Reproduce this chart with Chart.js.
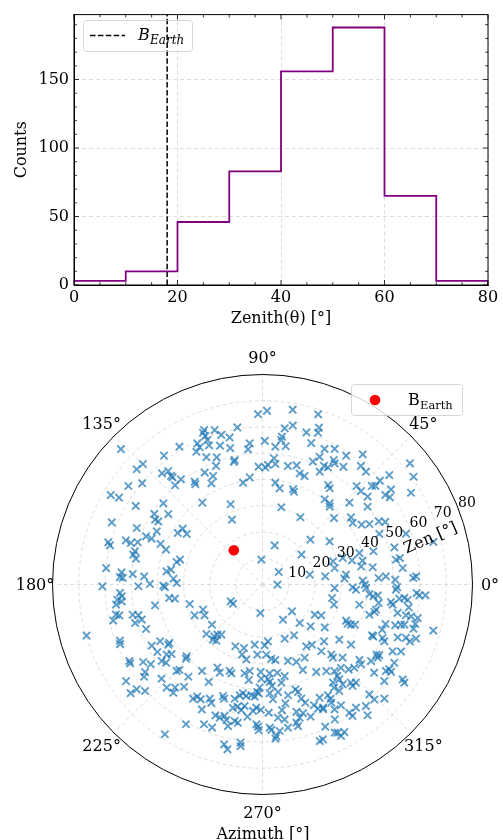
<!DOCTYPE html>
<html>
<head>
<meta charset="utf-8">
<script src="https://cdn.jsdelivr.net/npm/chart.js@4.4.1/dist/chart.umd.min.js"></script>
<style>
  body { margin: 0; background: #fff; }
  #wrap { position: relative; width: 503px; height: 840px; }
  canvas { position: absolute; left: 0; }
  #hist { top: 0; }
  #polar { top: 340px; }
</style>
</head>
<body>
<div id="wrap">
  <canvas id="hist" width="503" height="340"></canvas>
  <canvas id="polar" width="503" height="500"></canvas>
</div>
<script>
// histogram of zenith angles
const binEdges = [0, 10, 20, 30, 40, 50, 60, 70, 80];
const counts = [3, 10, 46, 83, 156, 188, 65, 3];
const bEarthZenith = 18;
const histYMax = 197.4;

// polar sky map (azimuth, zenith) in degrees
const azimuthDeg = [
  136.3,127.4,121.1,134.8,137.5,132.1,129.7,130.1,130,127.8,131.4,143.7,139.9,149.5,148.8,148.2,140.7,
  91.5,88.5,80.2,71.9,110.7,107.2,111.4,111.1,105.4,99.1,
  81.9,79.2,73.9,70.2,69.9,102.6,110.9,114.8,114.6,111,
  107,89.1,82.5,82.6,95.2,71,84.7,80.5,96.1,103.3,
  65.4,62,116.5,113.8,109.8,102.6,103.1,65.9,60.2,67.7,
  111.4,91.9,88.6,87.4,84.8,83.9,77.9,74,62.6,60.8,
  59.2,63.1,117.3,114.5,96.8,100.8,71.5,68.8,123.4,123.8,
  116.8,82.8,79.9,72.2,71.3,56.6,55.1,126.3,111.7,76.3,
  53.9,50.4,49.2,
  57,52.4,55.5,50.3,47.5,41.5,40.8,41.1,42,46.3,43.5,39.9,36.1,36.5,34.4,43.3,36.5,39.4,35.5,31.7,
  146.9,143.2,148.9,148.8,157.6,155.8,153.3,148.7,145,146.3,
  164.7,165.6,162.1,162.5,161.3,157.5,157.5,158.3,160.1,165.4,
  167,168.5,165.3,163.2,174,175.1,177,177.3,175.4,176.1,
  179.7,180.7,180.8,180.7,181.5,172.2,170.8,176.3,179,183.4,
  184.8,186,186.8,187.8,188.2,189.2,191,191.6,192.2,193.6,
  193.1,193.9,196.8,196.2,200.9,196.2,201.5,202.7,208.9,209,
  212.6,212.1,212.7,217.4,216.2,223.5,
  115.2,60.6,42.9,72.7,43.1,32.7,92.7,37.5,37.7,11.8,
  7.4,359.4,357.2,207.9,213,265.7,300.2,317.7,330,332.3,
  314,319,325.4,195,204.4,202.9,208,218.5,221.4,226.9,
  228,230.6,228.1,230.6,246.3,253.8,262.6,275.5,272,253.7,
  265.8,273.1,292.3,301.8,305.3,309.4,317.3,311.4,314.5,349,
  344.2,12.9,18.2,
  37.2,34.3,31.1,29.5,28.5,27,19.5,14,23.4,16.7,
  15.7,18,18.3,10.5,10.9,6.7,3,2.5,15.1,13.4,
  10.4,8.9,6.7,4.1,3.2,3.8,2.1,2.2,359.9,358.2,
  356.8,358.1,354.9,353.9,357.8,358.9,354.1,354.6,353.9,356.8,
  356,356.2,354.6,351,348.2,347.5,346.2,344.2,352.2,351.2,
  348.1,351.1,347.9,347.9,347.8,336.6,335.3,335.6,336.5,342.2,
  342.9,343.8,344.2,343.7,345.5,340.6,344.9,324.3,325.8,335.1,
  334.9,339.3,336,335,338.6,339.6,338.9,334.2,332.8,328.4,
  328.8,
  209.9,210.8,213,215.5,217.2,219,224.1,225.2,225.8,216.7,217.9,215.3,223,231.2,219.8,219.5,222.2,227.1,229.7,230.5,232.5,241.3,236.9,
  257.8,276.8,279.6,288.4,293.6,299.9,313.9,235,241.5,244.1,
  249.2,250.7,258.6,261.6,268.8,274.6,279.5,283.6,295.3,301.6,
  306.4,309.8,309.3,241.1,261.8,269.3,273.3,274.2,275.3,280.9,
  268.4,267.2,278.2,287.4,288.3,305.7,304.7,238.7,239.8,241.7,
  245.2,246.6,250.5,251.4,256.3,258.4,259.8,261.7,264.2,266,
  268,273.8,275.2,283,280.9,288.8,289.9,296.8,300.6,300.8,
  300.2,296.2,293.1,244.1,250.2,252.2,253.9,255.1,256.5,258.4,
  260.4,261.6,263.5,265.7,267.1,269.2,272.8,278.8,276.6,279.3,
  284.9,285.6,283.8,287.5,290,294.1,295.9,300,298.2,247.3,
  250.6,256.3,258.5,259.9,267.5,268.2,268.5,272.9,273.5,275.2,
  274.8,276.7,280.1,284.1,293.8,296,290.1,291.3,256.5,258,
  262.1,262.3,
  317.6,322.1,321,324.8,327.6,329.3,313.3,315.4,317.8,321.7,325,325.8,326.2,309,308.8,312,311.6,
  313.6,305.8,321.6,325.9,325.3,314.2,314.2,316.9,303,304.1,304.4,307.2,310.4,308.8,296.9,299,297.4
];
const zenithDeg = [
  74.6,61.8,61.3,64.7,65,57.1,56.2,54.1,53.3,50.7,50.4,63.4,59.9,67.1,63.9,56.8,48.8,
  64.9,66.2,67.6,68.2,62.9,61.6,62.1,60.6,59.1,60.6,
  60.1,61.7,60.3,63.5,61.6,57.4,58.9,59.2,57.5,56.8,
  55.3,54.7,56.8,55.5,54,57,52.7,53.4,51.8,53.4,
  56.8,58.5,56.5,53,51.5,48.6,48,53.3,54.6,50.6,
  48.5,44.9,44.6,45.6,48.3,46.2,46.2,47.2,50.9,51.1,
  53.7,48.2,48,45.4,41.1,39.5,44.6,44.3,46.9,46,
  43.2,39.1,37.2,38.1,37.3,45.4,44.7,38.7,32.9,30.3,
  40.2,40.1,39.2,
  58.5,62.6,54.4,58.7,58.3,59.7,63.8,57.1,56.1,51.9,51.7,52.2,57.9,60.9,58.8,45.5,49.8,72.7,70.7,66.5,
  49.2,44.8,47.8,46.4,62.1,52.5,45.1,37.8,37.1,34.7,
  60.9,60,54.7,52.6,50.2,48,45.7,41.8,39.1,50.2,
  50.5,49.2,33.8,32.8,59.9,53.9,54.4,53.3,49.6,45.2,
  42.9,61,47.3,37.8,37.2,36.9,35.3,34,32.7,54.4,
  53.8,55.6,54,56.3,35.9,33.8,41.7,57,55.8,58.5,
  50.8,48.7,50.7,47.9,47.5,69.8,58.4,58.8,48.2,44.6,
  42.6,41.9,47.6,43.6,45.2,39.8,
  27.3,29.4,37.2,15.6,25,30.4,9.5,18.7,7.8,18.4,
  24.1,5.7,27.5,13.7,13.4,10.9,15.5,15.2,23,25.3,
  20.4,24.3,28.8,28.7,28.4,24.6,25,24.6,28.5,27,
  25.7,24.7,28.2,27.7,25.7,25.2,23.1,21.8,23.2,27.8,
  26.8,26.8,22.3,22.8,28.9,29.7,31.9,33.9,37.4,27,
  28.3,28.2,28.3,
  42.3,41.6,44.1,46.8,50.4,52.5,58,67.1,48.5,44.1,
  52.2,38.8,32.2,51.7,53.3,53.8,58.6,57.5,35.3,39.2,
  38.2,42.5,32,31.3,44.3,47.1,50.6,38.2,39,34.4,
  35.7,39.5,40.9,42.5,50.9,51.3,52.4,54.3,55.6,58.8,
  59.9,62.2,44.1,44.8,37.7,44.3,43.9,42.3,49.4,50.2,
  52.6,56.4,55.9,57.9,60.5,34.7,35.7,37,38.4,49.2,
  52.9,54.9,56.2,59.9,60.1,62,67.4,36,40.8,46,
  46.6,48.7,50.1,51.2,55.3,58.3,60.2,58.6,55.7,51,
  52,
  58.5,58.7,54.2,52.3,48.2,47.3,40.6,46.4,45.4,55.8,57.2,63.7,52.6,45.1,62.4,65.1,60.4,53.6,51.5,53.4,49.1,60.7,68.1,
  29.2,28.5,29.2,30.7,32.2,32.2,38.7,40.2,36,37.3,
  35.2,35.9,34.5,33.3,33.3,34,34.1,35.9,36,39.1,
  41,42.9,45,42.4,36.8,35.9,36.2,37.2,38.8,38.1,
  39.3,41,41.4,41.9,43.1,46,47.8,50.9,49.4,49.7,
  47.9,49.1,45.1,45.9,44.8,43.1,42.1,42.9,42.4,42.8,
  41.5,41.5,43.9,43.3,46.1,45.9,47.9,48.3,49,50.7,
  52.1,52.3,50,52.9,53,53.3,52.1,53.4,48.3,47.5,
  48.5,46.8,50.7,48.3,47,47.8,48.9,48.4,51.1,52.1,
  50.2,52.7,54.2,51.4,53.6,51.8,52.8,54.9,58.3,57.7,
  57.8,55.5,53.1,53.5,53.3,54.2,55.5,54.6,55.5,58,
  58.9,56.2,55.4,55.6,59.2,62.8,63.5,63.3,62.6,64.2,
  60.8,62.1,
  41.3,46.8,48.3,50.6,52,58.4,43.6,46.1,47.2,54.2,57.4,59.2,58.1,46.5,48.8,50.3,51.7,
  51.6,50,59.2,64.5,65.7,58.4,61.1,63.6,54.9,59,60.7,58.9,60.8,63.9,63.3,64.3,65
];
const bEarthAz = 130;
const bEarthZen = 17;
const azimuthTicks = [0, 45, 90, 135, 180, 225, 270, 315];
const zenithTicks = [10, 20, 30, 40, 50, 60, 70, 80];
const rMax = 80;

const SERIF = '"DejaVu Serif", serif';
Chart.defaults.font.family = SERIF;
Chart.defaults.color = '#000';

// ---------- top: step histogram ----------
// outline points: go up at each left bin edge, run flat to the next edge
const stepPoints = [{ x: binEdges[0], y: 0 }];
counts.forEach((c, i) => stepPoints.push({ x: binEdges[i], y: c }));
stepPoints.push({ x: binEdges[binEdges.length - 1], y: counts[counts.length - 1] });
stepPoints.push({ x: binEdges[binEdges.length - 1], y: 0 });

const histFrame = {
  id: 'histFrame',
  afterDraw(chart) {
    const { ctx, chartArea: a, scales: { x, y } } = chart;
    const seg = (x1, y1, x2, y2) => { ctx.beginPath(); ctx.moveTo(x1, y1); ctx.lineTo(x2, y2); ctx.stroke(); };
    ctx.save();
    ctx.strokeStyle = '#000';
    ctx.lineWidth = 0.8;
    // inward ticks on all four sides
    for (let v = x.min; v <= x.max + 1e-6; v += 5) {
      const p = x.getPixelForValue(v);
      const len = v % 20 === 0 ? 5 : 2.8;
      seg(p, a.bottom, p, a.bottom - len);
      seg(p, a.top, p, a.top + len);
    }
    for (let v = 0; v <= y.max; v += 10) {
      const p = y.getPixelForValue(v);
      const len = v % 50 === 0 ? 5 : 2.8;
      seg(a.left, p, a.left + len, p);
      seg(a.right, p, a.right - len, p);
    }
    ctx.lineWidth = 1;
    ctx.strokeRect(a.left, a.top, a.right - a.left, a.bottom - a.top);

    // legend
    ctx.strokeStyle = '#cccccc';
    ctx.lineWidth = 0.8;
    ctx.beginPath();
    ctx.roundRect(83.5, 20.5, 109, 31, 3);
    ctx.stroke();
    ctx.strokeStyle = '#000';
    ctx.lineWidth = 1.5;
    ctx.setLineDash([5.5, 2.4]);
    seg(90, 35.5, 125, 35.5);
    ctx.setLineDash([]);
    ctx.fillStyle = '#000';
    ctx.textBaseline = 'alphabetic';
    ctx.textAlign = 'left';
    ctx.font = 'italic 16px ' + SERIF;
    ctx.fillText('B', 138, 40);
    ctx.font = 'italic 12px ' + SERIF;
    ctx.fillText('Earth', 150, 44);
    ctx.restore();
  }
};

new Chart(document.getElementById('hist'), {
  type: 'scatter',
  data: {
    datasets: [
      {
        label: 'counts',
        data: stepPoints,
        showLine: true,
        stepped: 'before',
        borderColor: '#800080',
        borderWidth: 1.8,
        pointRadius: 0,
        fill: false
      },
      {
        label: 'B_Earth',
        data: [{ x: bEarthZenith, y: 0 }, { x: bEarthZenith, y: histYMax }],
        showLine: true,
        borderColor: '#000',
        borderWidth: 1.5,
        borderDash: [5.5, 2.4],
        pointRadius: 0
      }
    ]
  },
  options: {
    responsive: false,
    animation: false,
    events: [],
    layout: { padding: { left: 0, right: 15, top: 11.7, bottom: 0 } },
    scales: {
      x: {
        type: 'linear',
        min: 0,
        max: 80,
        ticks: { stepSize: 20, padding: 3, font: { size: 16 }, maxRotation: 0 },
        grid: { color: '#d6d6d6', lineWidth: 0.8, drawTicks: false },
        border: { display: true, color: '#000', width: 1, dash: [4, 3] },
        title: { display: true, text: 'Zenith(θ) [°]', font: { size: 16 }, padding: { top: 0, bottom: 11.4 } },
        afterFit(s) { s.height = 55; }
      },
      y: {
        type: 'linear',
        min: 0,
        max: histYMax,
        ticks: { stepSize: 50, includeBounds: false, padding: 5, font: { size: 16 } },
        grid: { color: '#d6d6d6', lineWidth: 0.8, drawTicks: false },
        border: { display: true, color: '#000', width: 1, dash: [4, 3] },
        title: { display: true, text: 'Counts', font: { size: 16 }, padding: { top: 12.4, bottom: 0 } },
        afterFit(s) { s.width = 74; }
      }
    },
    plugins: { legend: { display: false }, tooltip: { enabled: false } }
  },
  plugins: [histFrame]
});

// ---------- bottom: polar scatter ----------
function toXY(az, zen) {
  const t = az * Math.PI / 180;
  return { x: zen * Math.cos(t), y: zen * Math.sin(t) };
}
const nPts = Math.min(azimuthDeg.length, zenithDeg.length);
const skyPoints = [];
for (let i = 0; i < nPts; i++) skyPoints.push(toXY(azimuthDeg[i], zenithDeg[i]));

const polarAxes = {
  id: 'polarAxes',
  beforeDatasetsDraw(chart) {
    const { ctx, scales: { x, y } } = chart;
    const cx = x.getPixelForValue(0), cy = y.getPixelForValue(0);
    const rpx = v => x.getPixelForValue(v) - cx;
    ctx.save();
    ctx.strokeStyle = '#d3d3d3';
    ctx.lineWidth = 0.8;
    ctx.setLineDash([3.5, 3]);
    zenithTicks.filter(v => v < rMax).forEach(v => {
      ctx.beginPath();
      ctx.arc(cx, cy, rpx(v), 0, 2 * Math.PI);
      ctx.stroke();
    });
    azimuthTicks.forEach(a => {
      const t = a * Math.PI / 180;
      ctx.beginPath();
      ctx.moveTo(cx, cy);
      ctx.lineTo(cx + rpx(rMax) * Math.cos(t), cy - rpx(rMax) * Math.sin(t));
      ctx.stroke();
    });
    ctx.setLineDash([]);
    ctx.strokeStyle = '#000';
    ctx.lineWidth = 1;
    ctx.beginPath();
    ctx.arc(cx, cy, rpx(rMax), 0, 2 * Math.PI);
    ctx.stroke();
    ctx.restore();
  },
  afterDatasetsDraw(chart) {
    const { ctx, scales: { x, y } } = chart;
    const cx = x.getPixelForValue(0), cy = y.getPixelForValue(0);
    const rpx = v => x.getPixelForValue(v) - cx;
    ctx.save();
    ctx.fillStyle = '#000';
    ctx.textAlign = 'center';
    ctx.textBaseline = 'alphabetic';

    // azimuth labels
    ctx.font = '16px ' + SERIF;
    const rl = rpx(rMax) + 17.5;
    azimuthTicks.forEach(a => {
      const t = a * Math.PI / 180;
      ctx.fillText(a + '°', cx + rl * Math.cos(t), cy - rl * Math.sin(t) + 5.8);
    });

    // zenith ring labels
    ctx.font = '14px ' + SERIF;
    const lt = 22.5 * Math.PI / 180;
    zenithTicks.forEach(v => {
      const px = cx + rpx(v) * Math.cos(lt) + 10.5;
      const py = cy - rpx(v) * Math.sin(lt) - 2.5;
      ctx.fillText(String(v), px, py + 5.1);
    });

    // radial axis label
    ctx.save();
    ctx.translate(430, 197);
    ctx.rotate(-23.5 * Math.PI / 180);
    ctx.font = '16px ' + SERIF;
    ctx.fillText('Zen [°]', 0, 5.8);
    ctx.restore();

    // azimuth axis label
    ctx.font = '16px ' + SERIF;
    ctx.fillText('Azimuth [°]', 263, 498.5);

    // legend
    ctx.fillStyle = 'rgba(255,255,255,0.8)';
    ctx.strokeStyle = '#cccccc';
    ctx.lineWidth = 0.8;
    ctx.beginPath();
    ctx.roundRect(351.5, 44.5, 111, 31, 3);
    ctx.fill();
    ctx.stroke();
    ctx.fillStyle = '#ff0000';
    ctx.beginPath();
    ctx.arc(375, 60, 5.3, 0, 2 * Math.PI);
    ctx.fill();
    ctx.fillStyle = '#000';
    ctx.textAlign = 'left';
    ctx.font = '16px ' + SERIF;
    ctx.fillText('B', 408, 65);
    ctx.font = '11.5px ' + SERIF;
    ctx.fillText('Earth', 420, 68.5);
    ctx.restore();
  }
};

new Chart(document.getElementById('polar'), {
  type: 'scatter',
  data: {
    datasets: [
      {
        label: 'B_Earth',
        data: [toXY(bEarthAz, bEarthZen)],
        pointStyle: 'circle',
        pointRadius: 5.3,
        backgroundColor: '#ff0000',
        borderColor: '#ff0000',
        borderWidth: 0
      },
      {
        label: 'events',
        data: skyPoints,
        pointStyle: 'crossRot',
        pointRadius: 5.2,
        borderWidth: 1.9,
        borderColor: 'rgba(31,119,180,0.72)',
        backgroundColor: 'rgba(31,119,180,0.72)'
      }
    ]
  },
  options: {
    responsive: false,
    animation: false,
    events: [],
    layout: { padding: { left: 52.5, right: 30.5, top: 34.5, bottom: 45.5 } },
    scales: {
      x: { type: 'linear', min: -rMax, max: rMax, display: false },
      y: { type: 'linear', min: -rMax, max: rMax, display: false }
    },
    plugins: { legend: { display: false }, tooltip: { enabled: false } }
  },
  plugins: [polarAxes]
});
</script>
</body>
</html>
